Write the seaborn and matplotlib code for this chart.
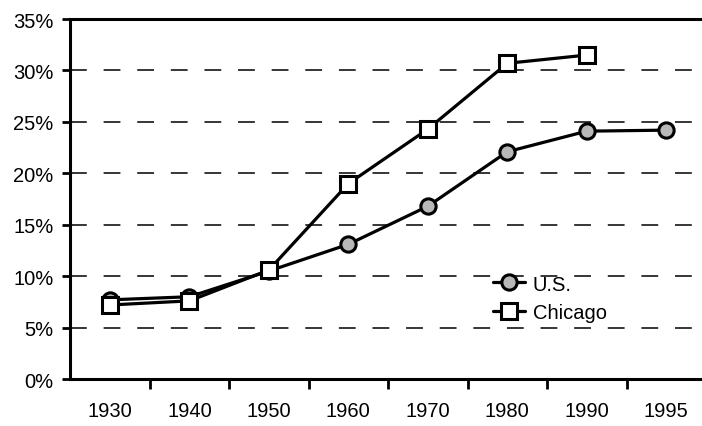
import pandas as pd
import matplotlib.pyplot as plt
import seaborn as sns
from matplotlib.ticker import FixedLocator, PercentFormatter

years = ["1930", "1940", "1950", "1960", "1970", "1980", "1990", "1995"]
us = [7.7, 8.0, 10.5, 13.1, 16.8, 22.1, 24.1, 24.2]
chicago = [7.2, 7.6, 10.6, 19.0, 24.3, 30.7, 31.5, None]

df = pd.DataFrame({"year": years, "U.S.": us, "Chicago": chicago})

sns.set_style("white")
plt.rcParams["font.family"] = ["Liberation Sans", "DejaVu Sans"]
plt.rcParams["text.color"] = "black"
plt.rcParams["xtick.color"] = "black"
plt.rcParams["ytick.color"] = "black"

fig = plt.figure(figsize=(7.02, 4.27), dpi=100)
ax = fig.add_axes([0.1, 0.11, 0.9, 0.843])

# dashed grid first so lines sit on top
for v in [5, 10, 15, 20, 25, 30]:
    ax.axhline(v, color="black", lw=1.1, ls=(0, (11, 11)), zorder=0)

sns.lineplot(data=df, x="year", y="U.S.", ax=ax, color="black", lw=2.3,
             marker="o", markersize=11, markerfacecolor="#b8b8b8",
             markeredgecolor="black", markeredgewidth=2.2, label="U.S.")
sns.lineplot(data=df.dropna(), x="year", y="Chicago", ax=ax, color="black", lw=2.3,
             marker="s", markersize=11, markerfacecolor="white",
             markeredgecolor="black", markeredgewidth=2.2, label="Chicago")

ax.set_ylim(0, 35)
ax.set_xlim(-0.5, 7.45)
ax.set_yticks(range(0, 36, 5))
ax.yaxis.set_major_formatter(PercentFormatter(decimals=0))
ax.xaxis.set_minor_locator(FixedLocator([i + 0.5 for i in range(7)]))
ax.tick_params(axis="x", which="major", length=0, pad=16, labelsize=14.5)
ax.tick_params(axis="x", which="minor", length=7, width=2, direction="out", bottom=True)
ax.tick_params(axis="y", length=6, width=2, direction="out", left=True, labelsize=14.5, pad=6)
ax.set_xlabel("")
ax.set_ylabel("")

for side in ["left", "bottom", "top"]:
    ax.spines[side].set_visible(True)
    ax.spines[side].set_color("black")
    ax.spines[side].set_linewidth(2.2)
ax.spines["right"].set_visible(False)

ax.legend(loc="center left", bbox_to_anchor=(0.64, 0.225), frameon=False,
          fontsize=14.5, handlelength=1.6, handletextpad=0.4, labelspacing=0.45)

fig.savefig("out.png", dpi=100)
